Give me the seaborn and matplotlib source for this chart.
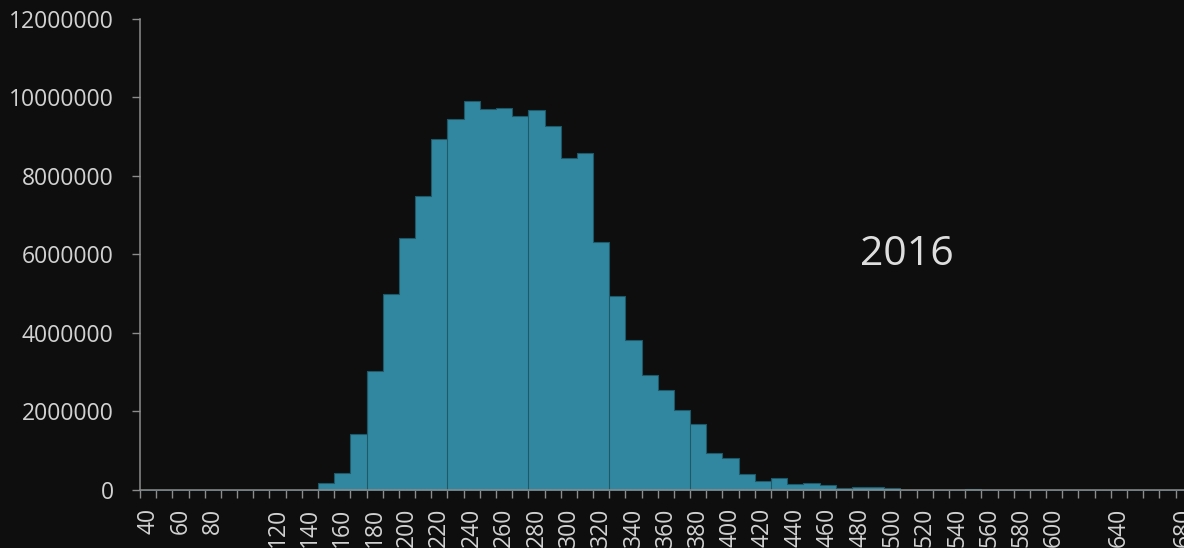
import matplotlib
matplotlib.use("Agg")
import matplotlib.pyplot as plt
import numpy as np
import pandas as pd
import seaborn as sns
from matplotlib.ticker import NullFormatter, FuncFormatter

# Histogram bins (left edges, width 10) and the number of records per bin
bin_starts = list(range(40, 690, 10))
counts = [
    0, 0, 0, 0, 0, 0, 0, 0, 0, 0, 0,                       # 40 - 140
    170000, 420000, 1430000, 3020000, 4980000,             # 150 - 190
    6410000, 7490000, 8940000, 9440000, 9910000,           # 200 - 240
    9700000, 9730000, 9530000, 9660000, 9260000,           # 250 - 290
    8440000, 8580000, 6310000, 4940000, 3820000,           # 300 - 340
    2920000, 2545000, 2040000, 1670000, 950000,            # 350 - 390
    810000, 400000, 220000, 310000, 165000,                # 400 - 440
    180000, 135000, 50000, 85000, 85000,                   # 450 - 490
    40000, 0, 0, 0, 0,                                     # 500 - 540
    30000, 0, 0, 0, 0,                                     # 550 - 590
    0, 0, 0, 0, 0,                                         # 600 - 640
    0, 0, 0, 0,                                            # 650 - 680
]
x_labels = [40, 60, 80, 120, 140, 160, 180, 200, 220, 240, 260, 280, 300,
            320, 340, 360, 380, 400, 420, 440, 460, 480, 500, 520, 540,
            560, 580, 600, 640, 680]
y_ticks = [0, 2000000, 4000000, 6000000, 8000000, 10000000, 12000000]
year = "2016"

BG = "#0e0e0e"
BAR = "#31879f"
EDGE = "#1f5868"
AXIS = "#8c8c8c"
LABEL = "#d2d2d2"

sns.set_theme(style="dark", rc={
    "axes.facecolor": BG,
    "figure.facecolor": BG,
    "savefig.facecolor": BG,
    "axes.grid": False,
})
plt.rcParams["font.family"] = ["Open Sans", "DejaVu Sans"]

fig = plt.figure(figsize=(11.84, 5.48), dpi=100)
ax = fig.add_axes([140 / 1184, 58 / 548, 1044 / 1184, 471.5 / 548])

df = pd.DataFrame({"score": bin_starts, "count": counts})
edges = bin_starts + [bin_starts[-1] + 10]

sns.histplot(data=df, x="score", weights="count", bins=edges,
             element="step", fill=True, color=BAR, alpha=1,
             edgecolor=EDGE, linewidth=0.8, ax=ax)

# faint bar outlines every fifth bin
marks = df[((df["score"] - 180) % 50 == 0) & (df["count"] > 0)]
ax.vlines(marks["score"], 0, marks["count"], color=EDGE, lw=0.8, zorder=2)

ax.set_xlim(40, 40 + 1044 / 1.618)
ax.set_ylim(0, 12000000)
ax.set_xlabel("")
ax.set_ylabel("")

for side in ("top", "right"):
    ax.spines[side].set_visible(False)
for side in ("bottom", "left"):
    ax.spines[side].set_visible(True)
    ax.spines[side].set_color(AXIS)
    ax.spines[side].set_linewidth(1.1)

# x axis: ticks on bin edges, labels centred on the bins
ax.set_xticks([e for e in bin_starts])
ax.xaxis.set_major_formatter(NullFormatter())
ax.set_xticks([v + 5 for v in x_labels], labels=[str(v) for v in x_labels], minor=True)
ax.tick_params(axis="x", which="major", bottom=True, length=6, width=1.0, color=AXIS)
ax.tick_params(axis="x", which="minor", bottom=True, length=0, pad=13,
               labelsize=16.5, labelcolor=LABEL, labelrotation=90)

ax.set_yticks(y_ticks)
ax.yaxis.set_major_formatter(FuncFormatter(lambda v, p: f"{v:.0f}"))
ax.tick_params(axis="y", left=True, length=6, width=1.0, color=AXIS, pad=13,
               labelsize=16.5, labelcolor=LABEL)

ax.text(514, 5730000, year, ha="center", va="baseline", fontsize=29.5, color="#dedede")

fig.savefig("out.png", dpi=100, facecolor=BG)
